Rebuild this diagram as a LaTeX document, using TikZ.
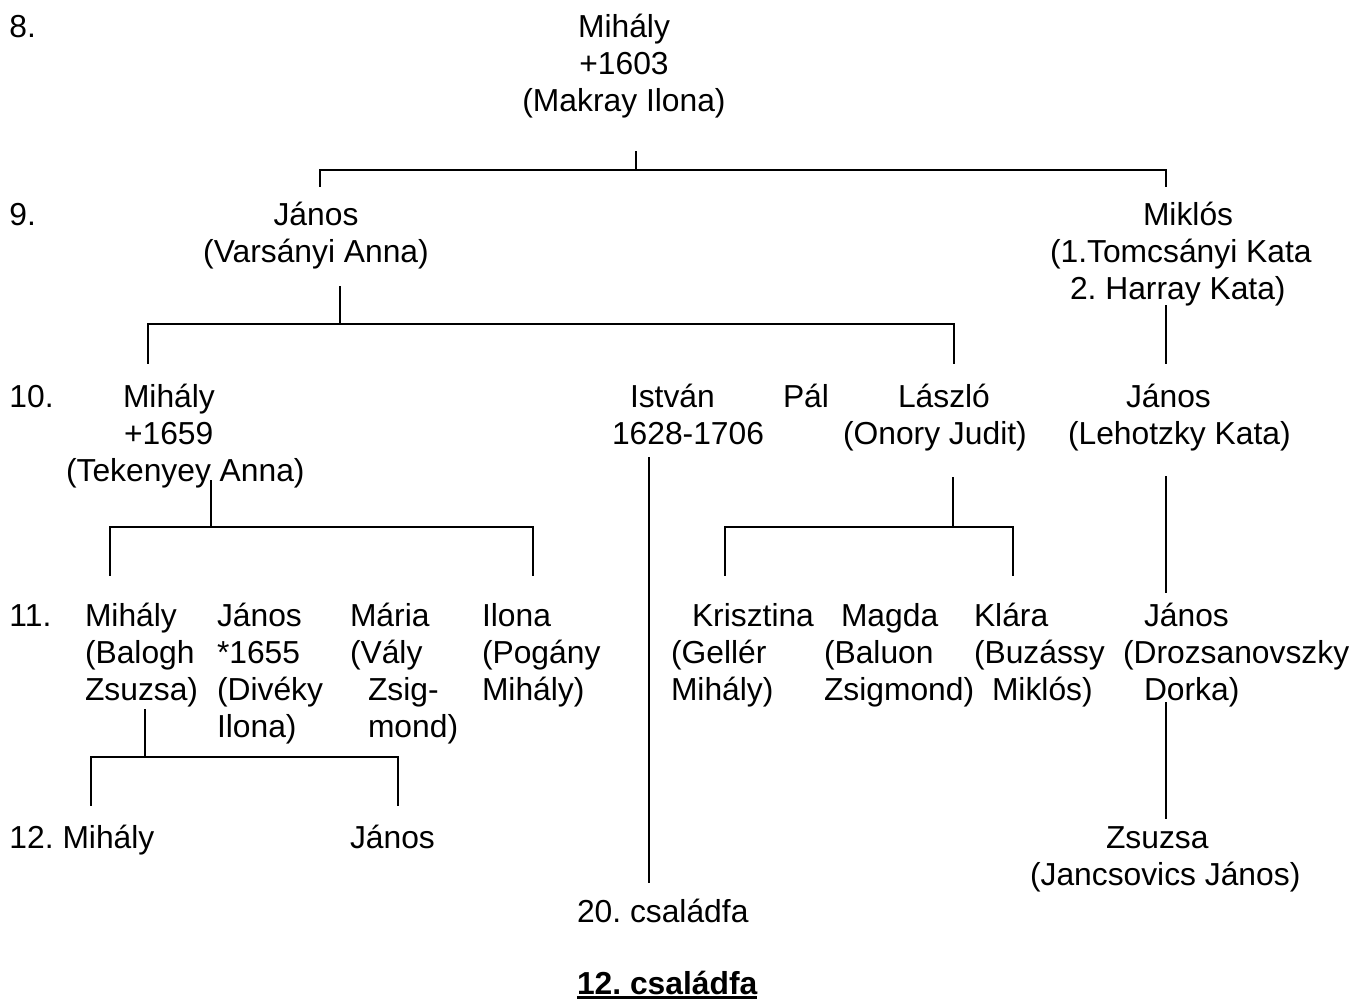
\documentclass[tikz,border=0pt]{standalone}
\usepackage{fontspec}
\setmainfont{Liberation Sans}
\frenchspacing
\newdimen\pxu \pxu=0.75pt
\newcommand{\ind}[1]{\hspace*{#1\pxu}}
\newcommand{\lstack}[1]{\vtop{\baselineskip=27.75pt\lineskiplimit=-20pt\halign{##\hfil\cr#1\crcr}}}
\newcommand{\cstack}[1]{\vtop{\baselineskip=27.75pt\lineskiplimit=-20pt\halign{\hfil##\hfil\cr#1\crcr}}}
\tikzset{
  txt/.style={inner sep=0pt, outer sep=0pt, anchor=base west, font=\fontsize{23.85pt}{27.75pt}\selectfont\frenchspacing},
  ctxt/.style={txt, anchor=base},
  thinline/.style={line width=1.3pt, line cap=rect},
  thickline/.style={line width=2.1pt},
}
\begin{document}
\begin{tikzpicture}[x=0.75pt,y=-0.75pt]
\fill[white] (0,0) rectangle (1357,1001);
\useasboundingbox (0,0) rectangle (1357,1001);

% generation labels and persons
\node[txt] (g8) at (9.5,37) {8.};
\node[ctxt] (m8) at (624,37) {\cstack{Mihály\cr +1603\cr (Makray Ilona)}};

\node[txt] (g9) at (9.5,225) {9.};
\node[ctxt] (j9) at (316,225) {\cstack{János\cr (Varsányi Anna)}};
\node[txt] (mk9) at (1050,225) {\lstack{\ind{93}Miklós\cr (1.Tomcsányi Kata\cr \ind{20}2. Harray Kata)}};

\node[txt] (g10) at (9.5,407) {10.};
\node[txt] (m10) at (66,407) {\lstack{\ind{57}Mihály\cr \ind{58}+1659\cr (Tekenyey Anna)}};
\node[txt] (is10) at (612,407) {\lstack{\ind{18}István\cr 1628-1706}};
\node[txt] (p10) at (783,407) {Pál};
\node[txt] (l10) at (843,407) {\lstack{\ind{55}László\cr (Onory Judit)}};
\node[txt] (j10) at (1068,407) {\lstack{\ind{58}János\cr (Lehotzky Kata)}};

\node[txt] (g11) at (9.5,626) {11.};
\node[txt] (a11) at (85,626) {\lstack{Mihály\cr (Balogh\cr Zsuzsa)}};
\node[txt] (b11) at (217,626) {\lstack{János\cr *1655\cr (Divéky\cr Ilona)}};
\node[txt] (c11) at (350,626) {\lstack{Mária\cr (Vály\cr \ind{18}Zsig-\cr \ind{18}mond)}};
\node[txt] (d11) at (482,626) {\lstack{Ilona\cr (Pogány\cr Mihály)}};
\node[txt] (e11) at (671,626) {\lstack{\ind{21}Krisztina\cr (Gellér\cr Mihály)}};
\node[txt] (f11) at (824,626) {\lstack{\ind{17}Magda\cr (Baluon\cr Zsigmond)}};
\node[txt] (k11) at (974,626) {\lstack{Klára\cr (Buzássy\cr \ind{18}Miklós)}};
\node[txt] (h11) at (1123,626) {\lstack{\ind{21}János\cr (Drozsanovszky\cr \ind{21}Dorka)}};

\node[txt] (g12) at (9.5,848) {12. Mihály};
\node[txt] (j12) at (350,848) {János};
\node[txt] (z12) at (1030,848) {\lstack{\ind{76}Zsuzsa\cr (Jancsovics János)}};

\node[txt] (c20) at (577,922) {20. családfa};
\node[txt] (title) at (577,994) {\bfseries 12. családfa};
\draw[line width=1.6pt] ([yshift=-2.6pt]title.base west) -- ([yshift=-2.6pt]title.base east);

% connector points
\coordinate (s8) at (636,152);
\coordinate (bar8) at (636,170);
\coordinate (t9l) at (320,186);
\coordinate (t9r) at (1166,186);

\coordinate (s9) at (340,286);
\coordinate (bar9) at (340,324);
\coordinate (t10l) at (148,363);
\coordinate (t10r) at (954,363);

\coordinate (smk) at (1166,306);
\coordinate (tmk) at (1166,363);

\coordinate (s10) at (211,480);
\coordinate (bar10) at (211,527);
\coordinate (t11l) at (110,575);
\coordinate (t11r) at (533,575);

\coordinate (sis) at (649,458);
\coordinate (tis) at (649,882);

\coordinate (sl) at (953,478);
\coordinate (barl) at (953,527);
\coordinate (tll) at (725,575);
\coordinate (tlr) at (1013,575);

\coordinate (sj10) at (1166,477);
\coordinate (tj10) at (1166,592);

\coordinate (s11) at (145,709);
\coordinate (bar11) at (145,757);
\coordinate (t12l) at (91,805);
\coordinate (t12r) at (398,805);

\coordinate (sj11) at (1166,703);
\coordinate (tj11) at (1166,818);

% connectors
\draw[thinline] (s8) -- (bar8);
\draw[thinline] (t9l) |- (bar8) -| (t9r);

\draw[thickline] (s9) -- (bar9);
\draw[thinline] (t10l) |- (bar9) -| (t10r);

\draw[thinline] (smk) -- (tmk);

\draw[thickline] (s10) -- (bar10);
\draw[thinline] (t11l) |- (bar10) -| (t11r);

\draw[thinline] (sis) -- (tis);

\draw[thinline] (sl) -- (barl);
\draw[thinline] (tll) |- (barl) -| (tlr);

\draw[thinline] (sj10) -- (tj10);

\draw[thickline] (s11) -- (bar11);
\draw[thinline] (t12l) |- (bar11) -| (t12r);

\draw[thinline] (sj11) -- (tj11);
\end{tikzpicture}
\end{document}
